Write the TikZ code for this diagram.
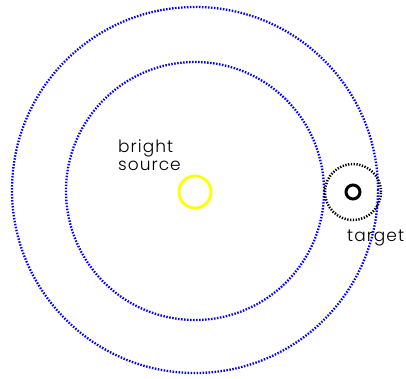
\documentclass[tikz,border=0pt]{standalone}
\usepackage{fontspec}
\setmainfont[LetterSpace=6]{Poppins Light}
\usepackage{xcolor}
\usetikzlibrary{positioning}
\definecolor{ringblue}{HTML}{0000FF}
\definecolor{srcyellow}{HTML}{FFFF00}

\begin{document}
\begin{tikzpicture}[x=1pt, y=-1pt, font=\fontsize{17}{18}\selectfont,
  ring/.style={circle, draw=ringblue, line width=2.3pt, dash pattern=on 1.5pt off 1.5pt, inner sep=0pt},
  label/.style={align=left, inner sep=0pt, anchor=base west}]
  \useasboundingbox (0,0) rectangle (406,379);
  % scan rings round the source
  \node[ring, minimum size=366pt] (outer) at (195,190) {};
  \node[ring, minimum size=258pt] (inner) at (195,191) {};
  \node[circle, draw=srcyellow, line width=2.8pt, minimum size=32pt, inner sep=0pt] (source) at (195,192) {};
  \node[label] (srclabel) at (118,171) {bright\\source};
  % the target
  \node[circle, draw=black, line width=2.5pt, dash pattern=on 1.3pt off 1.5pt, minimum size=56pt, inner sep=0pt] (field) at (353,192) {};
  \node[circle, draw=black, line width=3pt, minimum size=14pt, inner sep=0pt] (target) at (field.center) {};
  \node[label] (tgtlabel) at (347,241) {target};
\end{tikzpicture}
\end{document}
